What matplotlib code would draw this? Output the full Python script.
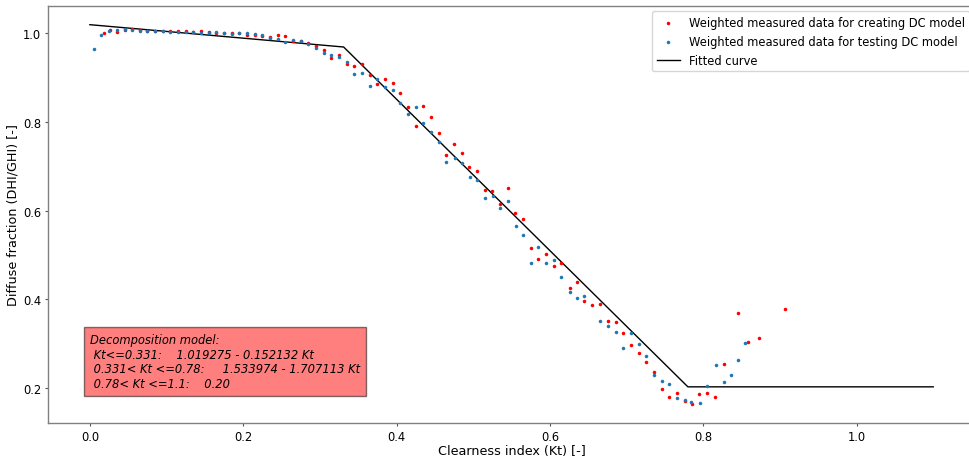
import matplotlib
matplotlib.use("Agg")
import matplotlib.pyplot as plt

# Weighted measured data for creating DC model (red)
create_kt = [0.019, 0.026, 0.036, 0.046, 0.055, 0.065, 0.075, 0.085, 0.095, 0.105,
             0.115, 0.125, 0.135, 0.145, 0.155, 0.165, 0.175, 0.185, 0.195, 0.205,
             0.215, 0.225, 0.235, 0.245, 0.255, 0.265, 0.275, 0.285, 0.295, 0.305,
             0.315, 0.325, 0.335, 0.345, 0.355, 0.365, 0.375, 0.385, 0.395, 0.405,
             0.415, 0.425, 0.435, 0.445, 0.455, 0.465, 0.475, 0.485, 0.495, 0.505,
             0.515, 0.525, 0.535, 0.545, 0.555, 0.565, 0.575, 0.585, 0.595, 0.605,
             0.615, 0.626, 0.635, 0.645, 0.655, 0.666, 0.676, 0.686, 0.696, 0.706,
             0.716, 0.726, 0.736, 0.746, 0.756, 0.766, 0.776, 0.786, 0.795, 0.805,
             0.815, 0.827, 0.845, 0.858, 0.873, 0.907]
create_df = [1.000, 1.007, 1.002, 1.008, 1.009, 1.007, 1.006, 1.005, 1.004, 1.004,
             1.004, 1.005, 1.002, 1.004, 1.003, 1.001, 1.000, 1.000, 1.000, 0.997,
             0.996, 0.994, 0.992, 0.997, 0.993, 0.983, 0.982, 0.979, 0.972, 0.962,
             0.943, 0.952, 0.931, 0.927, 0.930, 0.906, 0.885, 0.896, 0.887, 0.866,
             0.833, 0.790, 0.836, 0.810, 0.774, 0.726, 0.750, 0.729, 0.699, 0.690,
             0.647, 0.645, 0.615, 0.652, 0.594, 0.582, 0.516, 0.491, 0.501, 0.474,
             0.481, 0.425, 0.440, 0.395, 0.386, 0.389, 0.350, 0.348, 0.324, 0.296,
             0.278, 0.259, 0.235, 0.197, 0.180, 0.188, 0.171, 0.163, 0.186, 0.188,
             0.180, 0.253, 0.368, 0.304, 0.313, 0.377]

# Weighted measured data for testing DC model (blue)
test_kt = [0.006, 0.015, 0.025, 0.036, 0.046, 0.055, 0.065, 0.075, 0.085, 0.095,
           0.105, 0.115, 0.125, 0.135, 0.145, 0.155, 0.165, 0.175, 0.185, 0.195,
           0.205, 0.215, 0.225, 0.235, 0.245, 0.255, 0.265, 0.275, 0.285, 0.295,
           0.305, 0.315, 0.325, 0.335, 0.345, 0.355, 0.365, 0.375, 0.385, 0.395,
           0.405, 0.415, 0.425, 0.435, 0.445, 0.455, 0.465, 0.476, 0.485, 0.496,
           0.505, 0.515, 0.526, 0.535, 0.545, 0.556, 0.565, 0.575, 0.585, 0.595,
           0.606, 0.615, 0.626, 0.635, 0.645, 0.666, 0.676, 0.686, 0.696, 0.706,
           0.716, 0.726, 0.736, 0.746, 0.756, 0.766, 0.776, 0.784, 0.796, 0.805,
           0.817, 0.827, 0.836, 0.845, 0.854]
test_df = [0.964, 0.995, 1.004, 1.008, 1.009, 1.008, 1.006, 1.005, 1.005, 1.004,
           1.003, 1.003, 1.002, 1.002, 1.001, 1.001, 1.002, 1.000, 0.999, 1.001,
           1.001, 0.998, 0.996, 0.989, 0.988, 0.980, 0.984, 0.982, 0.976, 0.967,
           0.956, 0.950, 0.946, 0.935, 0.909, 0.911, 0.881, 0.896, 0.878, 0.872,
           0.842, 0.818, 0.833, 0.797, 0.777, 0.755, 0.709, 0.719, 0.708, 0.676,
           0.668, 0.629, 0.633, 0.605, 0.622, 0.565, 0.544, 0.482, 0.518, 0.482,
           0.488, 0.451, 0.416, 0.402, 0.408, 0.352, 0.340, 0.325, 0.291, 0.324,
           0.298, 0.272, 0.228, 0.215, 0.208, 0.178, 0.173, 0.169, 0.166, 0.205,
           0.251, 0.214, 0.229, 0.262, 0.302]

# Fitted piecewise curve (breakpoints)
fit_kt = [0.0, 0.331, 0.78, 1.1]
fit_df = [1.019275, 0.968919, 0.202426, 0.202426]

model_text = ("Decomposition model:\n"
              " Kt<=0.331:    1.019275 - 0.152132 Kt\n"
              " 0.331< Kt <=0.78:     1.533974 - 1.707113 Kt\n"
              " 0.78< Kt <=1.1:    0.20")

FS_LABEL = 9.2
FS_SMALL = 8.3
fig = plt.figure(figsize=(9.7, 4.6), dpi=100)
ax = fig.add_axes([47.7 / 970, (460 - 424.3) / 460, (975.4 - 47.7) / 970, (424.3 - 6.7) / 460])

ax.scatter(create_kt, create_df, s=6.5, color="red", linewidths=0,
           label="Weighted measured data for creating DC model", zorder=3)
ax.scatter(test_kt, test_df, s=6.5, color="#1f77b4", linewidths=0,
           label="Weighted measured data for testing DC model", zorder=3)
ax.plot(fit_kt, fit_df, color="black", lw=1.0, label="Fitted curve", zorder=2)

ax.text(0.0, 0.196, model_text, fontsize=FS_SMALL, style="italic", va="bottom", ha="left",
        linespacing=1.15, bbox=dict(facecolor="red", alpha=0.5, pad=4.5))

ax.set_xlabel("Clearness index (Kt) [-]", fontsize=FS_LABEL, labelpad=1)
ax.set_ylabel("Diffuse fraction (DHI/GHI) [-]", fontsize=FS_LABEL, labelpad=2.5)
ax.tick_params(labelsize=FS_SMALL, color="#555555", width=0.8, length=2, pad=2.6)
for sp in ax.spines.values():
    sp.set_color("#808080")
    sp.set_linewidth(1.0)

ax.legend(loc="upper right", fontsize=FS_SMALL, markerscale=1.0)

fig.savefig("out.png", dpi=100)
